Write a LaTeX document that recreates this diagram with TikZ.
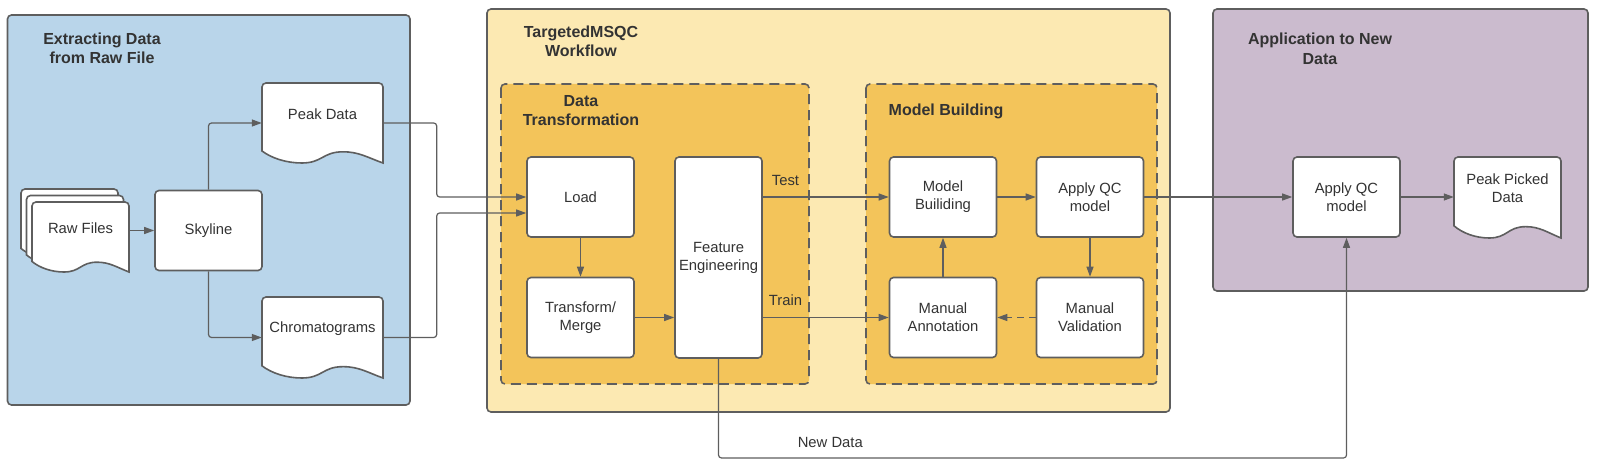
\documentclass[tikz,border=0pt]{standalone}
\usepackage{fontspec}
\setmainfont{Liberation Sans}
\usetikzlibrary{arrows.meta}

\definecolor{extractblue}{RGB}{185,213,234}
\definecolor{flowyellow}{RGB}{252,233,178}
\definecolor{stageorange}{RGB}{243,196,90}
\definecolor{applypurple}{RGB}{203,187,206}
\definecolor{linegray}{RGB}{94,94,94}
\definecolor{textgray}{RGB}{51,51,51}

% document shape: centre x, centre y, width, height
\newcommand{\docshape}[4]{%
  \draw[docline] ({#1-#3/2},{#2+0.35*#4})
    [rounded corners=4pt] -- ({#1-#3/2},{#2-#4/2}) -- ({#1+#3/2},{#2-#4/2})
    [sharp corners] -- ({#1+#3/2},{#2+#4/2})
    .. controls ({#1+0.37*#3},{#2+0.43*#4}) and ({#1+0.30*#3},{#2+0.36*#4}) .. ({#1+0.17*#3},{#2+0.36*#4})
    .. controls ({#1},{#2+0.36*#4}) and ({#1},{#2+0.5*#4}) .. ({#1-0.17*#3},{#2+0.5*#4})
    .. controls ({#1-0.30*#3},{#2+0.5*#4}) and ({#1-0.42*#3},{#2+0.44*#4}) .. cycle;
}
% document with name and text: name, x, y, width, height, text
\newcommand{\docnode}[6]{%
  \docshape{#2}{#3}{#4}{#5}
  \node[inner sep=0pt, minimum width=#4pt, minimum height=#5pt] (#1) at (#2,#3) {};
  \node[boxtext] (#1-text) at ([yshift=9pt]#1.center) {#6};
}

\begin{document}
\begin{tikzpicture}[x=1pt, y=-1pt, node distance=120.5pt,
    groupbox/.style={draw=linegray, line width=1.6pt, rounded corners=4pt},
    stage/.style={groupbox, dash pattern=on 10pt off 6pt, fill=stageorange},
    grouptitle/.style={font=\fontsize{16}{19.5}\selectfont\bfseries, text=textgray, align=center},
    boxtext/.style={font=\fontsize{14.8}{18}\selectfont, text=textgray, align=center},
    proc/.style={boxtext, rectangle, rounded corners=4pt, draw=linegray, line width=1.6pt,
      fill=white, minimum width=107pt, minimum height=80pt, inner sep=2pt},
    docline/.style={draw=linegray, line width=1.6pt, fill=white},
    conn/.style={draw=linegray, line width=1.2pt, rounded corners=3pt,
      -{Triangle[length=10pt, width=7pt]}},
    lbl/.style={boxtext, inner sep=0pt}
  ]
  \useasboundingbox (0,0) rectangle (1602,468);

  % groups
  \draw[groupbox, fill=extractblue] (7.5,15) rectangle (410,405);
  \draw[groupbox, fill=flowyellow] (487,9) rectangle (1170,412);
  \draw[stage] (501,84) rectangle (809,384);
  \draw[stage] (866,84) rectangle (1157,384);
  \draw[groupbox, fill=applypurple] (1213,9) rectangle (1588,291);

  \node[grouptitle] (extracttitle) at (102,48.5) {Extracting Data\\from Raw File};
  \node[grouptitle] (flowtitle) at (581,41.5) {TargetedMSQC\\Workflow};
  \node[grouptitle] (transftitle) at (581,110.5) {Data\\Transformation};
  \node[grouptitle] (modeltitle) at (946,111) {Model Building};
  \node[grouptitle] (applytitle) at (1320,49) {Application to New\\Data};

  % extracting data
  \docshape{69.5}{224}{97}{70}
  \docshape{75}{230.5}{97}{70}
  \docnode{raw}{80.5}{237}{97}{70}{Raw Files}
  \node[proc] (skyline) at (208.5,230.5) {Skyline};
  \docnode{peak}{322.5}{123}{121}{80}{Peak Data}
  \docnode{chrom}{322.5}{337.5}{121}{81}{Chromatograms}

  % workflow
  \node[proc] (load) at (580.5,197) {Load};
  \node[proc, below of=load] (merge) {Transform/\\Merge};
  \node[proc, minimum width=87pt, minimum height=201pt] (feat) at (718.5,257.5) {Feature\\Engineering};
  \node[proc] (mbuild) at (943,197) {Model\\Builiding};
  \node[proc, right of=mbuild, xshift=26.5pt] (qc) {Apply QC\\model};
  \node[proc, below of=mbuild] (annot) {Manual\\Annotation};
  \node[proc, below of=qc] (valid) {Manual\\Validation};

  % new data
  \node[proc] (qc2) at (1346.5,197) {Apply QC\\model};
  \docnode{picked}{1507.5}{197.5}{107}{81}{Peak Picked\\Data}

  \draw[conn] (raw.east |- skyline.west) -- (skyline.west);
  \draw[conn] (skyline.north) |- (peak.west);
  \draw[conn] (skyline.south) |- (chrom.west);
  \draw[conn] (peak.east) -- ++(53.5,0) |- (load.west);
  \draw[conn] (chrom.east) -- ++(53.5,0) |- ([yshift=-16pt]load.west);
  \draw[conn] (load) -- (merge);
  \draw[conn] (merge.east) -- (merge.east -| feat.west);
  \draw[conn] (feat.east |- mbuild.west) -- node[lbl, above=11pt, pos=0.18] (testlbl) {Test} (mbuild.west);
  \draw[conn] (feat.east |- annot.west) -- node[lbl, above=11pt, pos=0.18] (trainlbl) {Train} (annot.west);
  \draw[conn] (mbuild) -- (qc);
  \draw[conn] (qc) -- (valid);
  \draw[conn, dash pattern=on 7pt off 5pt] (valid) -- (annot);
  \draw[conn] (annot) -- (mbuild);
  \draw[conn] (qc) -- (qc2);
  \draw[conn] (qc2.east) -- (qc2.east -| picked.west);
  \coordinate (ndcorner) at (718.5,458);
  \draw[conn] (feat.south) -- (ndcorner) -| node[lbl, above=10pt, pos=0.089] (newdatalbl) {New Data} (qc2.south);

\end{tikzpicture}
\end{document}
